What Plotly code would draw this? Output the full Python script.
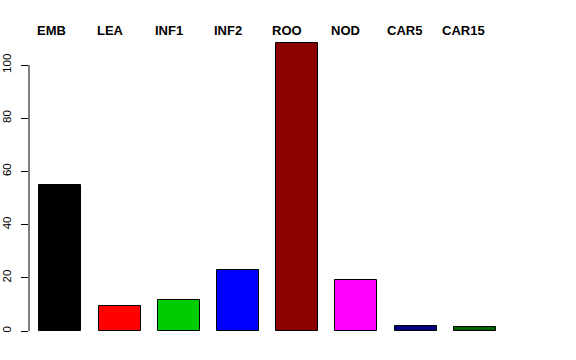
import plotly.graph_objects as go

categories = ["EMB", "LEA", "INF1", "INF2", "ROO", "NOD", "CAR5", "CAR15"]
values = [54.9, 9.4, 11.5, 23.0, 108.2, 19.2, 2.0, 1.4]
colors = ["#000000", "#FF0000", "#00CD00", "#0000FF", "#8B0000", "#FF00FF", "#000080", "#006400"]
y_ticks = [0, 20, 40, 60, 80, 100]

W, H = 576, 360
L, R, T, B = 29, 40, 33, 18
plot_w = W - L - R
x_start = -0.53
x_range = [x_start, x_start + plot_w / 59.2]

fig = go.Figure()
fig.add_trace(go.Bar(
    x=list(range(len(categories))),
    y=values,
    width=0.71,
    marker=dict(color=colors, line=dict(color="#000000", width=1)),
    showlegend=False,
    hoverinfo="skip",
))

# y axis line from 0 to 100 (R style)
fig.add_shape(type="line", xref="paper", yref="y", x0=0, x1=0,
              y0=y_ticks[0], y1=y_ticks[-1], line=dict(color="#000000", width=1))

# category labels across the top
for i, name in enumerate(categories):
    fig.add_annotation(text="<b>%s</b>" % name, xref="x", yref="paper",
                       x=i - 0.155 - 0.006 * i, y=1 + (T - 30) / (H - T - B),
                       xanchor="center", yanchor="middle", showarrow=False,
                       font=dict(family="Liberation Sans, Arial", size=13, color="#000000"))

fig.update_layout(
    width=W, height=H,
    margin=dict(l=L, r=R, t=T, b=B, pad=0),
    plot_bgcolor="white", paper_bgcolor="white",
    bargap=0,
    xaxis=dict(range=x_range, showgrid=False, zeroline=False, showline=False,
               showticklabels=False, ticks="", automargin=False),
    yaxis=dict(range=[(331 - (H - B)) / 2.66, (331 - T) / 2.66],
               tickvals=y_ticks, ticktext=[str(v) for v in y_ticks],
               tickangle=-90, ticks="outside", ticklen=7, tickwidth=1, tickcolor="#000000",
               showgrid=False, zeroline=False, showline=False, automargin=False,
               ticklabelstandoff=5,
               tickfont=dict(family="Liberation Sans, Arial", size=11.5, color="#000000")),
)

fig.write_html("out.html")
